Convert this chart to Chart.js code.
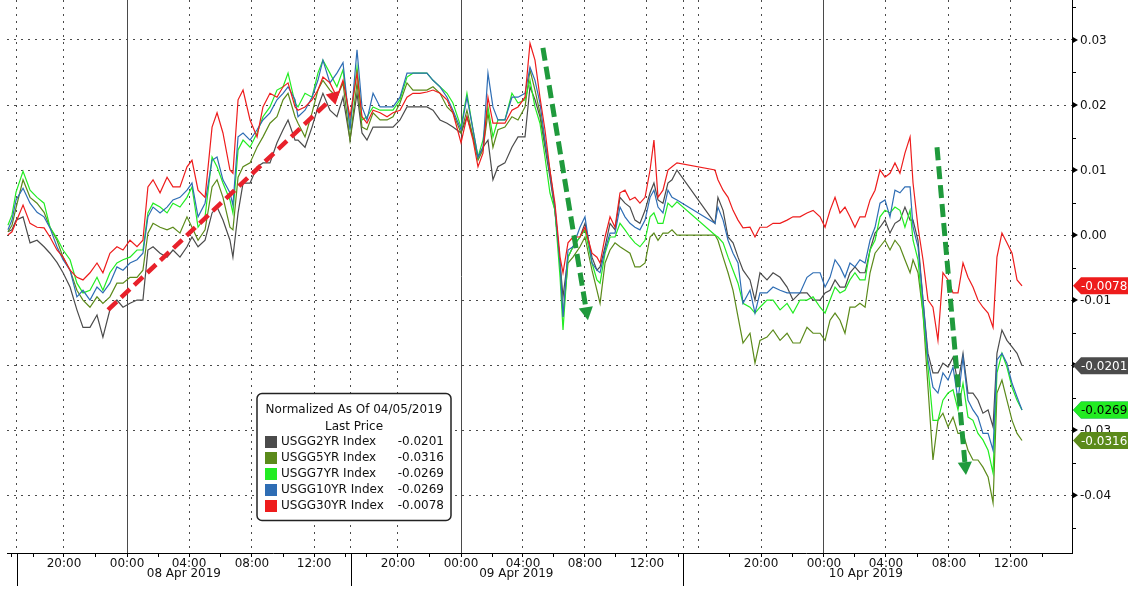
<!DOCTYPE html>
<html>
<head>
<meta charset="utf-8">
<title>US Treasury yields, normalized</title>
<script src="https://cdn.jsdelivr.net/npm/chart.js@4.4.1/dist/chart.umd.min.js"></script>
<style>
    html, body { margin: 0; padding: 0; background: #fff; }
    canvas { display: block; }
</style>
</head>
<body>
<canvas id="yieldChart" width="1136" height="592"></canvas>
<script>
// --- Data ---

// x: hours on the chart's compressed intraday axis (07 Apr 20:00 = 0)
const timeHours = [
    -3.60, -3.34, -3.08, -2.63, -2.18, -1.73, -1.28, -0.90, -0.45, -0.06,
    0.39, 0.83, 1.22, 1.67, 2.12, 2.50, 2.95, 3.40, 3.79, 4.24,
    4.69, 5.07, 5.39, 5.72, 6.17, 6.62, 7.00, 7.45, 7.90, 8.22,
    8.61, 9.06, 9.51, 9.83, 10.21, 10.66, 10.85, 11.18, 11.50, 11.95,
    12.40, 12.78, 13.23, 13.68, 14.07, 14.39, 14.84, 15.03, 15.48, 15.93,
    16.31, 16.63, 17.08, 17.53, 17.92, 18.37, 18.82, 19.14, 19.46, 19.85,
    20.30, 20.75, 21.13, 21.58, 22.03, 22.41, 22.86, 23.31, 23.70, 24.15,
    24.60, 24.98, 25.50, 25.88, 26.27, 26.59, 26.91, 27.23, 27.55, 27.87,
    28.32, 28.77, 29.16, 29.61, 29.93, 30.25, 30.57, 30.89, 31.21, 31.53,
    31.86, 32.05, 32.37, 32.69, 33.14, 33.46, 33.91, 34.23, 34.43, 34.75,
    35.07, 35.39, 35.71, 36.03, 36.35, 36.67, 36.99, 37.32, 37.64, 37.89,
    38.15, 38.47, 38.79, 39.05, 39.37, 41.81, 42.00, 42.33, 42.65, 42.97,
    43.29, 43.61, 44.06, 44.38, 44.70, 45.15, 45.54, 45.99, 46.44, 46.82,
    47.27, 47.72, 48.11, 48.56, 48.88, 49.20, 49.52, 49.84, 50.16, 50.48,
    50.80, 51.12, 51.45, 51.77, 52.09, 52.41, 52.73, 53.05, 53.37, 53.69,
    54.01, 54.34, 54.53, 54.85, 55.17, 55.49, 55.81, 56.13, 56.45, 56.78,
    57.10, 57.42, 57.74, 58.06, 58.38, 58.70, 59.02, 59.35, 59.67, 59.92,
    60.24, 60.56, 60.89, 61.21, 61.53
];

const usgg2yr = [
    0.0005, 0.0008, 0.0023, 0.0028, -0.0012, -0.0008, -0.0018, -0.0028, -0.0042, -0.0058,
    -0.0080, -0.0115, -0.0142, -0.0142, -0.0123, -0.0157, -0.0115, -0.0100, -0.0111, -0.0105,
    -0.0100, -0.0100, -0.0023, -0.0018, -0.0028, -0.0034, -0.0023, -0.0034, -0.0018, -0.0003,
    -0.0018, -0.0008, 0.0034, 0.0043, 0.0023, -0.0008, -0.0034, 0.0034, 0.0080, 0.0080,
    0.0105, 0.0111, 0.0111, 0.0142, 0.0162, 0.0177, 0.0146, 0.0146, 0.0135, 0.0166,
    0.0197, 0.0218, 0.0192, 0.0182, 0.0212, 0.0146, 0.0218, 0.0157, 0.0146, 0.0166,
    0.0166, 0.0166, 0.0166, 0.0177, 0.0197, 0.0197, 0.0197, 0.0197, 0.0192, 0.0177,
    0.0172, 0.0166, 0.0157, 0.0182, 0.0151, 0.0120, 0.0135, 0.0146, 0.0085, 0.0105,
    0.0111, 0.0135, 0.0151, 0.0151, 0.0228, 0.0208, 0.0182, 0.0135, 0.0089, 0.0038,
    -0.0043, -0.0095, -0.0034, -0.0018, -0.0003, 0.0018, -0.0034, -0.0054, -0.0049, -0.0018,
    0.0018, 0.0008, 0.0058, 0.0049, 0.0043, 0.0023, 0.0018, 0.0038, 0.0065, 0.0080,
    0.0054, 0.0049, 0.0080, 0.0085, 0.0100, 0.0018, 0.0058, 0.0038, -0.0003, -0.0012,
    -0.0034, -0.0054, -0.0069, -0.0100, -0.0058, -0.0069, -0.0058, -0.0065, -0.0080, -0.0100,
    -0.0089, -0.0089, -0.0100, -0.0100, -0.0089, -0.0085, -0.0069, -0.0080, -0.0080, -0.0058,
    -0.0049, -0.0058, -0.0058, -0.0023, 0.0003, 0.0012, 0.0023, 0.0003, 0.0018, 0.0023,
    0.0043, 0.0023, 0.0023, -0.0008, -0.0100, -0.0182, -0.0212, -0.0212, -0.0197, -0.0203,
    -0.0188, -0.0228, -0.0182, -0.0243, -0.0243, -0.0254, -0.0274, -0.0269, -0.0295, -0.0182,
    -0.0146, -0.0162, -0.0172, -0.0182, -0.0201
];

const usgg5yr = [
    0.0005, 0.0015, 0.0042, 0.0085, 0.0058, 0.0049, 0.0035, 0.0012, -0.0008, -0.0034,
    -0.0054, -0.0085, -0.0100, -0.0111, -0.0095, -0.0105, -0.0095, -0.0074, -0.0074, -0.0065,
    -0.0065, -0.0054, 0.0003, 0.0018, 0.0012, 0.0008, 0.0012, 0.0003, 0.0028, 0.0012,
    -0.0008, 0.0008, 0.0074, 0.0085, 0.0058, 0.0012, 0.0008, 0.0089, 0.0105, 0.0111,
    0.0135, 0.0151, 0.0172, 0.0182, 0.0208, 0.0218, 0.0182, 0.0172, 0.0151, 0.0188,
    0.0223, 0.0238, 0.0223, 0.0212, 0.0234, 0.0146, 0.0234, 0.0166, 0.0162, 0.0188,
    0.0177, 0.0177, 0.0182, 0.0203, 0.0234, 0.0223, 0.0223, 0.0223, 0.0228, 0.0218,
    0.0197, 0.0188, 0.0157, 0.0192, 0.0151, 0.0115, 0.0131, 0.0188, 0.0135, 0.0162,
    0.0166, 0.0182, 0.0177, 0.0197, 0.0254, 0.0223, 0.0188, 0.0142, 0.0100, 0.0038,
    -0.0043, -0.0126, -0.0043, -0.0034, -0.0018, -0.0003, -0.0054, -0.0085, -0.0105, -0.0043,
    -0.0023, -0.0012, -0.0018, -0.0023, -0.0028, -0.0049, -0.0049, -0.0043, -0.0003, 0.0003,
    -0.0008, 0.0003, 0.0003, 0.0008, 0, 0, -0.0008, -0.0034, -0.0058, -0.0085,
    -0.0126, -0.0166, -0.0151, -0.0197, -0.0162, -0.0157, -0.0146, -0.0162, -0.0151, -0.0166,
    -0.0166, -0.0142, -0.0151, -0.0151, -0.0162, -0.0131, -0.0120, -0.0131, -0.0151, -0.0111,
    -0.0111, -0.0105, -0.0111, -0.0058, -0.0028, -0.0018, -0.0008, -0.0023, -0.0008, -0.0018,
    -0.0038, -0.0058, -0.0038, -0.0058, -0.0120, -0.0234, -0.0346, -0.0285, -0.0274, -0.0295,
    -0.0280, -0.0305, -0.0305, -0.0331, -0.0346, -0.0346, -0.0357, -0.0372, -0.0412, -0.0243,
    -0.0223, -0.0254, -0.0285, -0.0305, -0.0316
];

const usgg7yr = [
    0.0015, 0.0031, 0.0066, 0.0098, 0.0069, 0.0058, 0.0049, 0.0012, -0.0005, -0.0023,
    -0.0038, -0.0074, -0.0089, -0.0085, -0.0065, -0.0085, -0.0058, -0.0043, -0.0038, -0.0034,
    -0.0023, -0.0023, 0.0034, 0.0049, 0.0043, 0.0034, 0.0049, 0.0043, 0.0058, 0.0074,
    0.0012, 0.0028, 0.0120, 0.0105, 0.0080, 0.0054, 0.0034, 0.0131, 0.0146, 0.0135,
    0.0157, 0.0182, 0.0197, 0.0223, 0.0228, 0.0249, 0.0203, 0.0197, 0.0218, 0.0212,
    0.0249, 0.0269, 0.0249, 0.0228, 0.0254, 0.0166, 0.0258, 0.0177, 0.0182, 0.0197,
    0.0192, 0.0192, 0.0192, 0.0208, 0.0243, 0.0249, 0.0249, 0.0249, 0.0238, 0.0228,
    0.0218, 0.0203, 0.0166, 0.0218, 0.0162, 0.0120, 0.0146, 0.0197, 0.0151, 0.0177,
    0.0177, 0.0218, 0.0203, 0.0208, 0.0238, 0.0197, 0.0172, 0.0120, 0.0065, 0.0038,
    -0.0065, -0.0146, -0.0034, -0.0018, -0.0003, 0.0008, -0.0043, -0.0069, -0.0074, -0.0028,
    -0.0003, -0.0003, 0.0018, 0.0008, -0.0003, -0.0012, -0.0018, -0.0008, 0.0028, 0.0034,
    0.0018, 0.0018, 0.0049, 0.0043, 0.0051, 0, -0.0003, -0.0012, -0.0034, -0.0054,
    -0.0074, -0.0105, -0.0111, -0.0120, -0.0111, -0.0100, -0.0100, -0.0115, -0.0105, -0.0120,
    -0.0100, -0.0100, -0.0095, -0.0111, -0.0120, -0.0100, -0.0080, -0.0089, -0.0085, -0.0069,
    -0.0058, -0.0069, -0.0069, -0.0023, -0.0008, 0.0028, 0.0038, 0.0034, 0.0043, 0.0038,
    0.0012, 0.0038, -0.0008, -0.0038, -0.0120, -0.0203, -0.0285, -0.0285, -0.0254, -0.0243,
    -0.0238, -0.0269, -0.0228, -0.0280, -0.0285, -0.0305, -0.0315, -0.0331, -0.0366, -0.0212,
    -0.0182, -0.0203, -0.0234, -0.0254, -0.0269
];

const usgg10yr = [
    0.0008, 0.0023, 0.0054, 0.0072, 0.0049, 0.0035, 0.0028, 0.0011, -0.0018, -0.0038,
    -0.0054, -0.0095, -0.0085, -0.0100, -0.0080, -0.0089, -0.0074, -0.0049, -0.0054, -0.0043,
    -0.0038, -0.0028, 0.0028, 0.0043, 0.0034, 0.0043, 0.0054, 0.0058, 0.0069, 0.0080,
    0.0028, 0.0049, 0.0115, 0.0120, 0.0085, 0.0065, 0.0046, 0.0151, 0.0157, 0.0146,
    0.0162, 0.0177, 0.0188, 0.0208, 0.0218, 0.0228, 0.0208, 0.0182, 0.0192, 0.0212,
    0.0238, 0.0269, 0.0234, 0.0249, 0.0265, 0.0162, 0.0285, 0.0197, 0.0177, 0.0218,
    0.0197, 0.0197, 0.0197, 0.0212, 0.0249, 0.0249, 0.0249, 0.0249, 0.0238, 0.0228,
    0.0212, 0.0192, 0.0162, 0.0212, 0.0162, 0.0120, 0.0135, 0.0249, 0.0197, 0.0177,
    0.0177, 0.0212, 0.0212, 0.0218, 0.0258, 0.0238, 0.0203, 0.0146, 0.0095, 0.0043,
    -0.0043, -0.0126, -0.0023, -0.0018, 0.0012, 0.0028, -0.0043, -0.0054, -0.0058, -0.0023,
    0.0003, 0.0003, 0.0043, 0.0028, 0.0018, 0.0012, 0.0008, 0.0023, 0.0058, 0.0069,
    0.0043, 0.0034, 0.0069, 0.0058, 0.0054, 0.0018, 0.0043, 0.0023, -0.0008, -0.0028,
    -0.0043, -0.0105, -0.0085, -0.0120, -0.0089, -0.0089, -0.0080, -0.0085, -0.0089, -0.0089,
    -0.0089, -0.0065, -0.0058, -0.0058, -0.0080, -0.0065, -0.0038, -0.0049, -0.0065, -0.0043,
    -0.0049, -0.0038, -0.0043, -0.0008, 0.0012, 0.0049, 0.0054, 0.0028, 0.0069, 0.0065,
    0.0074, 0.0074, 0.0012, -0.0018, -0.0100, -0.0192, -0.0234, -0.0243, -0.0212, -0.0223,
    -0.0203, -0.0254, -0.0188, -0.0254, -0.0269, -0.0280, -0.0305, -0.0305, -0.0331, -0.0192,
    -0.0182, -0.0197, -0.0228, -0.0249, -0.0269
];

const usgg30yr = [
    0, 0.0005, 0.0020, 0.0046, 0.0018, 0.0012, 0.0011, -0.0003, -0.0023, -0.0034,
    -0.0054, -0.0065, -0.0069, -0.0058, -0.0043, -0.0058, -0.0028, -0.0018, -0.0023, -0.0008,
    -0.0018, -0.0008, 0.0074, 0.0085, 0.0065, 0.0089, 0.0074, 0.0074, 0.0105, 0.0115,
    0.0069, 0.0058, 0.0166, 0.0188, 0.0157, 0.0100, 0.0095, 0.0208, 0.0223, 0.0177,
    0.0151, 0.0197, 0.0218, 0.0212, 0.0228, 0.0234, 0.0197, 0.0192, 0.0197, 0.0208,
    0.0223, 0.0243, 0.0234, 0.0212, 0.0238, 0.0182, 0.0249, 0.0182, 0.0172, 0.0192,
    0.0188, 0.0182, 0.0188, 0.0192, 0.0212, 0.0218, 0.0218, 0.0220, 0.0223, 0.0218,
    0.0208, 0.0188, 0.0142, 0.0182, 0.0146, 0.0105, 0.0126, 0.0212, 0.0172, 0.0172,
    0.0172, 0.0192, 0.0197, 0.0212, 0.0295, 0.0269, 0.0212, 0.0162, 0.0100, 0.0049,
    -0.0034, -0.0058, -0.0012, -0.0003, -0.0003, 0.0012, -0.0028, -0.0034, -0.0043, -0.0003,
    0.0028, 0.0012, 0.0065, 0.0069, 0.0054, 0.0058, 0.0049, 0.0058, 0.0100, 0.0146,
    0.0058, 0.0069, 0.0100, 0.0105, 0.0111, 0.0100, 0.0085, 0.0069, 0.0058, 0.0038,
    0.0023, 0.0011, 0.0012, -0.0003, 0.0012, 0.0012, 0.0018, 0.0018, 0.0023, 0.0028,
    0.0028, 0.0034, 0.0038, 0.0028, 0.0012, 0.0038, 0.0058, 0.0034, 0.0043, 0.0028,
    0.0012, 0.0028, 0.0028, 0.0054, 0.0069, 0.0100, 0.0089, 0.0095, 0.0111, 0.0095,
    0.0126, 0.0151, 0.0080, 0.0012, -0.0038, -0.0100, -0.0111, -0.0162, -0.0058, -0.0069,
    -0.0089, -0.0089, -0.0043, -0.0065, -0.0080, -0.0100, -0.0111, -0.0120, -0.0142, -0.0034,
    0.0003, -0.0012, -0.0028, -0.0069, -0.0078
];

// Series styling (legend order)
const seriesNames = ['USGG2YR Index', 'USGG5YR Index', 'USGG7YR Index', 'USGG10YR Index', 'USGG30YR Index'];
const seriesValues = [usgg2yr, usgg5yr, usgg7yr, usgg10yr, usgg30yr];
const seriesColors = ['#4b4b4b', '#5b8a1a', '#22ec22', '#2e6db4', '#ee1c1c'];
const tagTextColors = ['#fff', '#fff', '#000', '#fff', '#fff'];
const drawOrder = [4, 3, 2, 1, 0];   // red on top, grey at the bottom

// x axis ticks
const majorTickHours = [0, 4.05, 8.03, 12.07, 16.06, 21.45, 25.5, 29.48, 33.46, 37.44, 44.77, 48.81, 52.79, 56.84, 60.82];
const majorTickLabels = ['20:00', '00:00', '04:00', '08:00', '12:00', '20:00', '00:00', '04:00', '08:00', '12:00', '20:00', '00:00', '04:00', '08:00', '12:00'];
const minorTickHours = [-3.36, -1.98, 2.03, 6.04, 10.05, 14.07, 18.06, 19.45, 23.48, 27.49, 31.47, 35.45, 39.44, 42.77, 46.79, 50.8, 54.82, 58.83, 62.83];
const sessionBreakHours = [-3.02, 18.43, 39.76];
const extraGridHours = [40.78];
const dayLabels = ['08 Apr 2019', '09 Apr 2019', '10 Apr 2019'];
const dayLabelHours = [7.7, 29.05, 51.5];

// y axis ticks (every 0.005, labelled every 0.01)
const yTickValues = [-0.045, -0.04, -0.035, -0.03, -0.025, -0.02, -0.015, -0.01, -0.005, 0, 0.005, 0.01, 0.015, 0.02, 0.025, 0.03, 0.035];

// Hand-drawn trend arrows, in data units
const trendArrows = [
    { from: [2.83, -0.0115], to: [17.73, 0.0222], color: '#e8212b', width: 4.5, dash: [12, 6], head: 13 },
    { from: [30.76, 0.0288], to: [33.65, -0.0131], color: '#1f9a3c', width: 5, dash: [13, 6], head: 13 },
    { from: [56.07, 0.0135], to: [57.93, -0.0369], color: '#1f9a3c', width: 5, dash: [13, 6], head: 13 },
];

// --- Helpers ---

const FONT = "12px 'DejaVu Sans', sans-serif";

const xTicks = [
    ...majorTickHours.map((v, i) => ({ value: v, kind: majorTickLabels[i] === '00:00' ? 'midnight' : 'major', label: majorTickLabels[i] })),
    ...minorTickHours.map(v => ({ value: v, kind: 'minor', label: '' })),
    ...sessionBreakHours.concat(extraGridHours).map(v => ({ value: v, kind: 'break', label: '' })),
].sort((a, b) => a.value - b.value);

const xKindOf = (ctx) => {
    if (!ctx.tick) return null;
    const t = xTicks.find(item => item.value === ctx.tick.value);
    return t ? t.kind : null;
};

const isMajorY = (v) => Math.abs(v * 100 - Math.round(v * 100)) < 1e-6;

const roundRectPath = (ctx, x, y, w, h, r) => {
    ctx.beginPath();
    ctx.moveTo(x + r, y);
    ctx.arcTo(x + w, y, x + w, y + h, r);
    ctx.arcTo(x + w, y + h, x, y + h, r);
    ctx.arcTo(x, y + h, x, y, r);
    ctx.arcTo(x, y, x + w, y, r);
    ctx.closePath();
};

const drawArrow = (ctx, xs, ys, a) => {
    const x1 = xs.getPixelForValue(a.from[0]), y1 = ys.getPixelForValue(a.from[1]);
    const x2 = xs.getPixelForValue(a.to[0]), y2 = ys.getPixelForValue(a.to[1]);
    const ang = Math.atan2(y2 - y1, x2 - x1);
    const bx = x2 - Math.cos(ang) * a.head, by = y2 - Math.sin(ang) * a.head;
    const half = a.head * 0.55;
    ctx.save();
    ctx.strokeStyle = a.color;
    ctx.lineWidth = a.width;
    ctx.setLineDash(a.dash);
    ctx.beginPath();
    ctx.moveTo(x1, y1);
    ctx.lineTo(bx, by);
    ctx.stroke();
    ctx.setLineDash([]);
    ctx.fillStyle = a.color;
    ctx.beginPath();
    ctx.moveTo(x2, y2);
    ctx.lineTo(bx + Math.cos(ang + Math.PI / 2) * half, by + Math.sin(ang + Math.PI / 2) * half);
    ctx.lineTo(bx - Math.cos(ang + Math.PI / 2) * half, by - Math.sin(ang + Math.PI / 2) * half);
    ctx.closePath();
    ctx.fill();
    ctx.restore();
};

// --- Decorations: arrows, legend, right axis labels, value tags, date row ---
const bloombergDecor = {
    id: 'bloombergDecor',
    afterDatasetsDraw(chart) {
        const { ctx, scales: { x, y } } = chart;
        trendArrows.forEach(a => drawArrow(ctx, x, y, a));

        // Legend box
        ctx.save();
        roundRectPath(ctx, 257, 393.5, 194, 127, 5);
        ctx.fillStyle = '#fff';
        ctx.fill();
        ctx.strokeStyle = '#222';
        ctx.lineWidth = 1.5;
        ctx.stroke();
        ctx.font = FONT;
        ctx.fillStyle = '#111';
        ctx.textAlign = 'center';
        ctx.textBaseline = 'middle';
        ctx.fillText('Normalized As Of 04/05/2019', 354, 410);
        ctx.fillText('Last Price', 354, 427);
        seriesNames.forEach((name, i) => {
            const rowY = 442 + i * 16;
            const vals = seriesValues[i];
            ctx.fillStyle = seriesColors[i];
            ctx.fillRect(265, rowY - 6, 12, 12);
            ctx.fillStyle = '#111';
            ctx.textAlign = 'left';
            ctx.fillText(name, 281, rowY);
            ctx.textAlign = 'right';
            ctx.fillText(vals[vals.length - 1].toFixed(4), 444, rowY);
        });
        ctx.restore();
    },
    afterDraw(chart) {
        const { ctx, chartArea, scales: { x, y } } = chart;
        const axisX = chartArea.right;
        ctx.save();
        ctx.font = FONT;
        ctx.textBaseline = 'middle';

        // Right axis tick marks and labels
        yTickValues.forEach(v => {
            const py = y.getPixelForValue(v);
            ctx.fillStyle = '#000';
            if (isMajorY(v)) {
                ctx.beginPath();
                ctx.moveTo(axisX, py - 3.5);
                ctx.lineTo(axisX + 6, py);
                ctx.lineTo(axisX, py + 3.5);
                ctx.closePath();
                ctx.fill();
                ctx.fillStyle = '#111';
                ctx.textAlign = 'left';
                ctx.fillText(v.toFixed(2), axisX + 8, py + 1);
            } else {
                ctx.fillRect(axisX, Math.round(py), 4, 1);
            }
        });

        // Last-value tags (10YR first so 7YR covers it)
        [3, 2, 0, 4, 1].forEach(i => {
            const vals = seriesValues[i];
            const last = vals[vals.length - 1];
            const py = y.getPixelForValue(last);
            ctx.fillStyle = seriesColors[i];
            ctx.beginPath();
            ctx.moveTo(axisX + 1, py);
            ctx.lineTo(axisX + 9, py - 8.5);
            ctx.lineTo(axisX + 56, py - 8.5);
            ctx.lineTo(axisX + 56, py + 8.5);
            ctx.lineTo(axisX + 9, py + 8.5);
            ctx.closePath();
            ctx.fill();
            ctx.fillStyle = tagTextColors[i];
            ctx.textAlign = 'left';
            ctx.fillText(last.toFixed(4), axisX + 9, py + 1);
        });

        // Session separators below the time axis and the date row
        ctx.strokeStyle = '#000';
        ctx.lineWidth = 1;
        sessionBreakHours.forEach(h => {
            const px = Math.round(x.getPixelForValue(h)) + 0.5;
            ctx.beginPath();
            ctx.moveTo(px, chartArea.bottom);
            ctx.lineTo(px, chartArea.bottom + 33);
            ctx.stroke();
        });
        ctx.fillStyle = '#111';
        ctx.textAlign = 'center';
        dayLabels.forEach((label, i) => {
            ctx.fillText(label, x.getPixelForValue(dayLabelHours[i]), chartArea.bottom + 21);
        });
        ctx.restore();
    }
};

// --- Chart ---
Chart.defaults.font.family = "'DejaVu Sans', sans-serif";
Chart.defaults.font.size = 12;

new Chart(document.getElementById('yieldChart'), {
    type: 'line',
    data: {
        datasets: seriesNames.map((name, i) => ({
            label: name,
            data: timeHours.map((h, j) => ({ x: h, y: seriesValues[i][j] })),
            borderColor: seriesColors[i],
            borderWidth: 1.2,
            pointRadius: 0,
            tension: 0,
            fill: false,
            order: drawOrder[i],
        })),
    },
    options: {
        responsive: false,
        animation: false,
        devicePixelRatio: 1,
        layout: { padding: { left: 7, right: 0, top: 0, bottom: 0 } },
        plugins: {
            legend: { display: false },
            tooltip: { enabled: false },
        },
        scales: {
            x: {
                type: 'linear',
                min: -3.66,
                max: 64.74,
                afterBuildTicks: (scale) => { scale.ticks = xTicks.map(t => ({ value: t.value })); },
                afterFit: (scale) => { scale.height = 39; },
                ticks: {
                    autoSkip: false,
                    maxRotation: 0,
                    padding: 0,
                    color: '#111',
                    callback: (value, index) => xTicks[index].label,
                },
                grid: {
                    color: (ctx) => {
                        const kind = xKindOf(ctx);
                        return kind === 'minor' ? 'rgba(0,0,0,0)' : '#4a4a4a';
                    },
                    lineWidth: 1,
                    tickLength: 4,
                    tickColor: (ctx) => xKindOf(ctx) === 'break' ? 'rgba(0,0,0,0)' : '#000',
                },
                border: {
                    color: '#000',
                    width: 1,
                    dash: (ctx) => {
                        const kind = xKindOf(ctx);
                        return (!kind || kind === 'midnight') ? [] : [2, 5];
                    },
                },
            },
            y: {
                position: 'right',
                min: -0.0489,
                max: 0.03615,
                afterBuildTicks: (scale) => { scale.ticks = yTickValues.map(v => ({ value: v })); },
                afterFit: (scale) => { scale.width = 64; },
                ticks: { display: false },
                grid: {
                    color: (ctx) => (ctx.tick && isMajorY(ctx.tick.value)) ? '#4a4a4a' : 'rgba(0,0,0,0)',
                    lineWidth: 1,
                    drawTicks: false,
                },
                border: {
                    color: '#000',
                    width: 1,
                    dash: (ctx) => ctx.tick ? [2, 5] : [],
                },
            },
        },
    },
    plugins: [bloombergDecor],
});
</script>
</body>
</html>
